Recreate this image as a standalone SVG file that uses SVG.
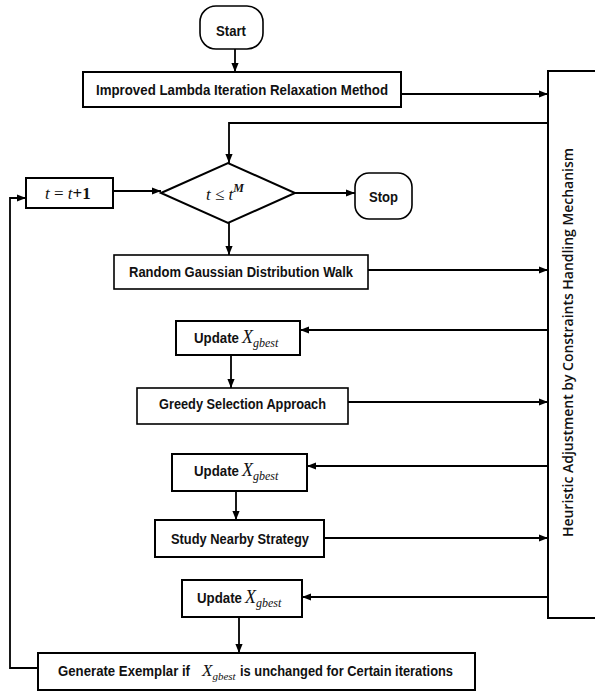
<svg xmlns="http://www.w3.org/2000/svg" width="595" height="691" viewBox="0 0 595 691">
<style>
.box{fill:#fff;stroke:#000;stroke-width:2}
.thin{fill:#fff;stroke:#000;stroke-width:1.6}
.lbl{font-family:"Liberation Sans",Arial,sans-serif;font-weight:bold;font-size:14.5px;fill:#111}
.math{font-family:"Liberation Serif","Times New Roman",serif;font-style:italic;fill:#111}
.side{font-family:"Open Sans","Liberation Sans",sans-serif;font-weight:600;font-size:13.5px;fill:#111}
.con{fill:none;stroke:#000;stroke-width:1.8}
</style>
<defs>
<marker id="ah" viewBox="0 0 10 10" refX="10" refY="5" markerWidth="5" markerHeight="5" markerUnits="strokeWidth" orient="auto">
<path d="M0,1 L10,5 L0,9 z" fill="#000"/>
</marker>
</defs>
<rect width="595" height="691" fill="#fff"/>
<g id="connectors">
<path class="con" d="M235,49 V72" marker-end="url(#ah)"/>
<path class="con" d="M401,94 H548" marker-end="url(#ah)"/>
<path class="con" d="M548,123 H229 V163" marker-end="url(#ah)"/>
<path class="con" d="M113,191 H161" marker-end="url(#ah)"/>
<path class="con" d="M295,193 H355" marker-end="url(#ah)"/>
<path class="con" d="M229,223 V255" marker-end="url(#ah)"/>
<path class="con" d="M368,270 H548" marker-end="url(#ah)"/>
<path class="con" d="M548,330 H300" marker-end="url(#ah)"/>
<path class="con" d="M231,355 V388" marker-end="url(#ah)"/>
<path class="con" d="M348,402 H548" marker-end="url(#ah)"/>
<path class="con" d="M548,466 H307" marker-end="url(#ah)"/>
<path class="con" d="M236,491 V520" marker-end="url(#ah)"/>
<path class="con" d="M324,538 H548" marker-end="url(#ah)"/>
<path class="con" d="M548,597 H302" marker-end="url(#ah)"/>
<path class="con" d="M239,617 V653" marker-end="url(#ah)"/>
<path class="con" d="M38,668 H10 V198 H26" marker-end="url(#ah)"/>
</g>
<g id="start">
<rect class="thin" x="200" y="6" width="63" height="43" rx="16"/>
<text class="lbl" x="231" y="36" text-anchor="middle" textLength="30" lengthAdjust="spacingAndGlyphs">Start</text>
</g>
<g id="lambda">
<rect class="box" x="83" y="72" width="318" height="35"/>
<text class="lbl" x="96" y="95" textLength="292" lengthAdjust="spacingAndGlyphs">Improved Lambda Iteration Relaxation Method</text>
</g>
<g id="heuristic">
<rect class="box" x="548" y="71" width="60" height="547"/>
<text class="side" transform="translate(573,537) rotate(-90)" textLength="389" lengthAdjust="spacingAndGlyphs">Heuristic Adjustment by Constraints Handling Mechanism</text>
</g>
<g id="increment">
<rect class="box" x="26" y="178" width="87" height="30"/>
<text class="math" x="45" y="199" font-size="17">t <tspan font-style="normal">=</tspan> t<tspan font-style="normal" font-weight="bold">+1</tspan></text>
</g>
<g id="decision">
<path class="box" d="M161,193 L228,163 L295,193 L228,223 Z"/>
<text class="math" x="206" y="200" font-size="17">t <tspan font-style="normal">≤</tspan> t<tspan font-size="12" dy="-8" font-weight="bold">M</tspan></text>
</g>
<g id="stop">
<rect class="thin" x="355" y="173" width="57" height="46" rx="14"/>
<text class="lbl" x="383.5" y="202" text-anchor="middle" textLength="29" lengthAdjust="spacingAndGlyphs">Stop</text>
</g>
<g id="random">
<rect class="thin" x="114" y="255" width="254" height="34"/>
<text class="lbl" x="129" y="277" textLength="224" lengthAdjust="spacingAndGlyphs">Random Gaussian Distribution Walk</text>
</g>
<g id="update1">
<rect class="box" x="176" y="321" width="124" height="34"/>
<text class="lbl" x="194" y="343" textLength="45" lengthAdjust="spacingAndGlyphs">Update</text>
<text class="math" x="242" y="343" font-size="18">X<tspan font-size="12" dy="4">gbest</tspan></text>
</g>
<g id="greedy">
<rect class="thin" x="137" y="388" width="211" height="36"/>
<text class="lbl" x="159" y="409" textLength="167" lengthAdjust="spacingAndGlyphs">Greedy Selection Approach</text>
</g>
<g id="update2">
<rect class="box" x="172" y="454" width="135" height="37"/>
<text class="lbl" x="194" y="476" textLength="45" lengthAdjust="spacingAndGlyphs">Update</text>
<text class="math" x="242" y="476" font-size="18">X<tspan font-size="12" dy="4">gbest</tspan></text>
</g>
<g id="study">
<rect class="box" x="155" y="520" width="169" height="37"/>
<text class="lbl" x="171" y="544" textLength="138" lengthAdjust="spacingAndGlyphs">Study Nearby Strategy</text>
</g>
<g id="update3">
<rect class="box" x="182" y="580" width="120" height="37"/>
<text class="lbl" x="197" y="603" textLength="45" lengthAdjust="spacingAndGlyphs">Update</text>
<text class="math" x="245" y="603" font-size="18">X<tspan font-size="12" dy="4">gbest</tspan></text>
</g>
<g id="generate">
<rect class="box" x="38" y="653" width="437" height="37"/>
<text class="lbl" x="58" y="676" textLength="132" lengthAdjust="spacingAndGlyphs">Generate Exemplar if</text>
<text class="math" x="202" y="676" font-size="17">X<tspan font-size="11" dy="4">gbest</tspan></text>
<text class="lbl" x="240" y="676" textLength="213" lengthAdjust="spacingAndGlyphs">is unchanged for  Certain iterations</text>
</g>
</svg>
